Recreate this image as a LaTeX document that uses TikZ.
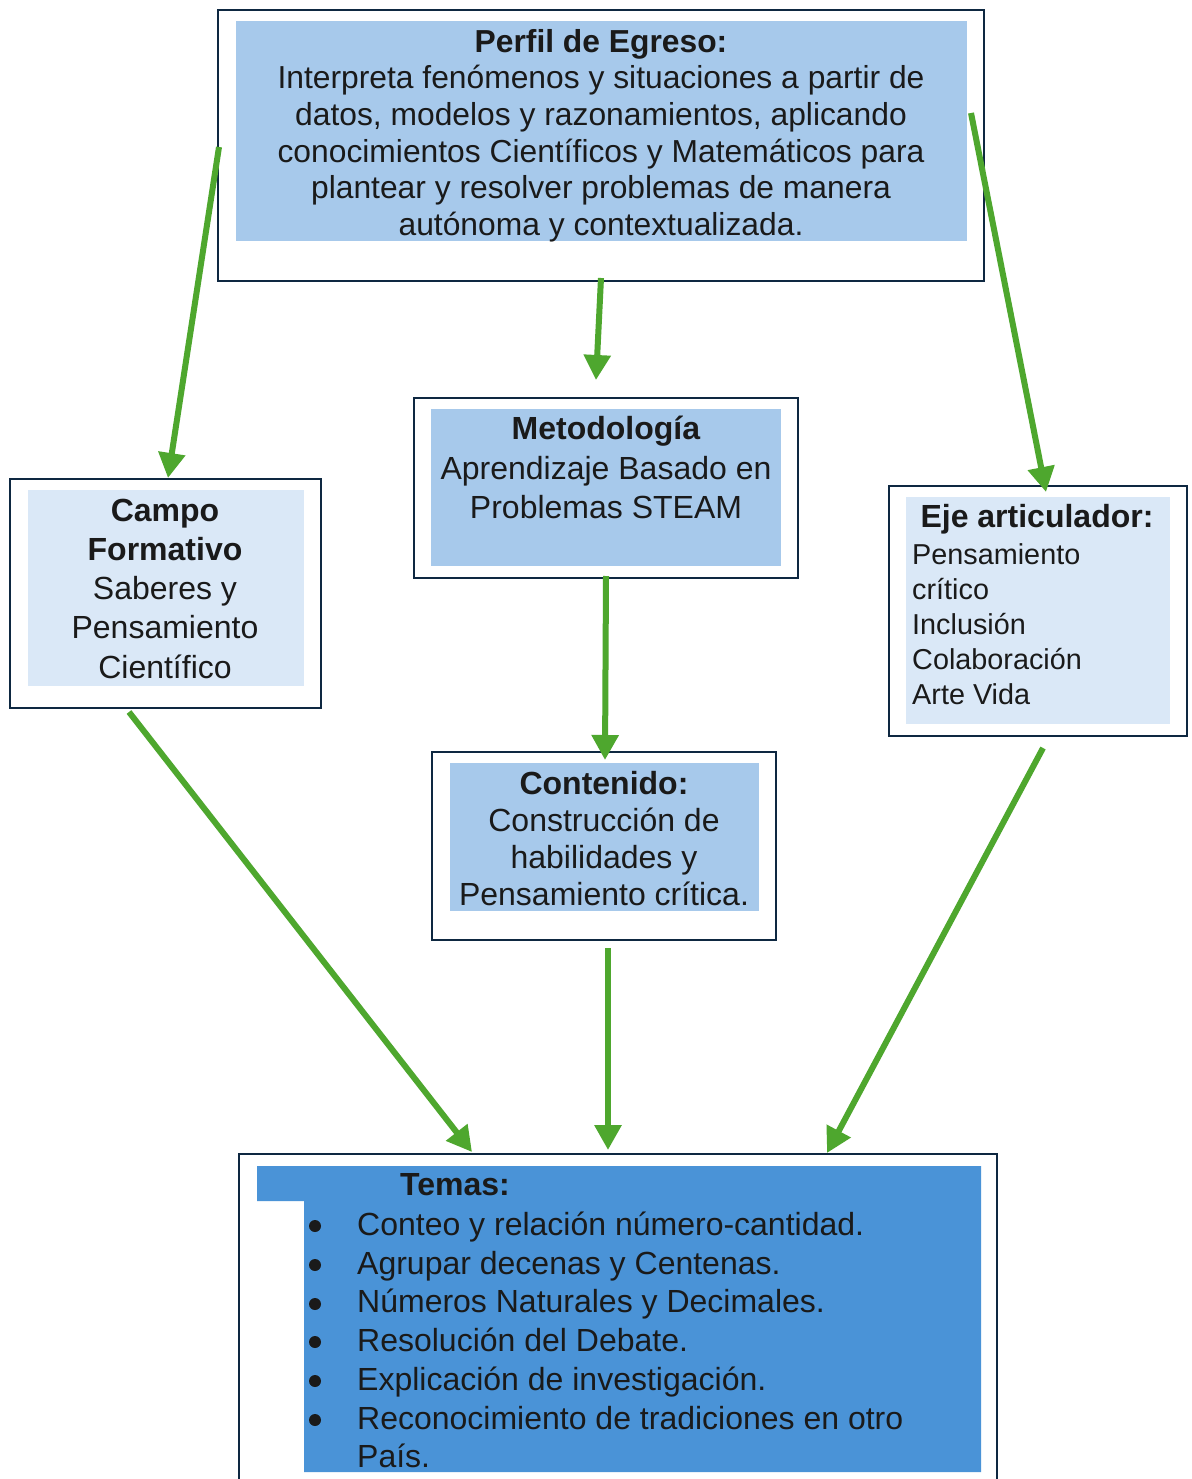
\documentclass[tikz,border=0pt]{standalone}
\usepackage{fontspec}
\setmainfont{Liberation Sans}
\usetikzlibrary{arrows.meta}
\definecolor{navy}{HTML}{0E2841}
\definecolor{midblue}{HTML}{A7C9EB}
\definecolor{lightblue}{HTML}{DAE8F7}
\definecolor{temablue}{HTML}{4A93D7}
\definecolor{arrgreen}{HTML}{4EA72E}
\definecolor{ink}{HTML}{1A1A1A}
\tikzset{
  obox/.style={draw=navy, line width=2.5pt, fill=white, anchor=north west, inner sep=0pt, outer sep=0pt},
  fbox/.style={anchor=north west, inner sep=0pt, outer sep=0pt},
  txt/.style={inner sep=0pt, text=ink, align=center},
  arr/.style={draw=arrgreen, line width=6pt, -{Triangle[length=25pt,width=26pt]}},
  bulletdot/.style={fill=ink},
}
\begin{document}
\begin{tikzpicture}[x=1pt,y=-1pt]
\useasboundingbox[fill=white] (0,0) rectangle (1191,1479);

% outer boxes
\node[obox, minimum width=766pt, minimum height=271pt] (perfilO) at (218,10) {};
\node[obox, minimum width=311pt, minimum height=229pt] (campoO) at (10,479) {};
\node[obox, minimum width=384pt, minimum height=180pt] (metoO) at (414,398) {};
\node[obox, minimum width=344pt, minimum height=188pt] (contO) at (432,752) {};
\node[obox, minimum width=298pt, minimum height=250pt] (ejeO) at (889,486) {};
\node[obox, minimum width=758pt, minimum height=340pt] (temasO) at (239,1154) {};

% inner fills
\node[fbox, fill=midblue, minimum width=731pt, minimum height=220pt] (perfilF) at (236,21) {};
\node[fbox, fill=lightblue, minimum width=276pt, minimum height=196pt] (campoF) at (28,490) {};
\node[fbox, fill=midblue, minimum width=350pt, minimum height=157pt] (metoF) at (431,409) {};
\node[fbox, fill=midblue, minimum width=309pt, minimum height=148pt] (contF) at (450,763) {};
\node[fbox, fill=lightblue, minimum width=264pt, minimum height=227pt] (ejeF) at (906,497) {};
\fill[temablue] (257,1166) -- (981,1166) -- (981,1472) -- (304,1472) -- (304,1201) -- (257,1201) -- cycle;

% texts
\node[txt, font=\fontsize{31.8pt}{36.6pt}\selectfont] (perfilT) at (601,135.5)
  {\textbf{Perfil de Egreso:}\\Interpreta fenómenos y situaciones a partir de\\datos, modelos y razonamientos, aplicando\\conocimientos Científicos y Matemáticos para\\plantear y resolver problemas de manera\\autónoma y contextualizada.};
\node[txt, font=\fontsize{32pt}{39.25pt}\selectfont] (campoT) at (165,588.5)
  {\textbf{Campo}\\\textbf{Formativo}\\Saberes y\\Pensamiento\\Científico};
\node[txt, font=\fontsize{32pt}{39.5pt}\selectfont] (metoT) at (606,467.5)
  {\textbf{Metodología}\\Aprendizaje Basado en\\Problemas STEAM};
\node[txt, font=\fontsize{32pt}{37pt}\selectfont] (contT) at (604,838.5)
  {\textbf{Contenido:}\\Construcción de\\habilidades y\\Pensamiento crítica.};
\node[txt, font=\fontsize{32pt}{37pt}\selectfont\bfseries] (ejeH) at (1037,519) {Eje articulador:};
\node[txt, align=left, anchor=west, font=\fontsize{28.8pt}{35pt}\selectfont] (ejeT) at (912,624)
  {Pensamiento\\crítico\\Inclusión\\Colaboración\\Arte Vida};
\node[txt, font=\fontsize{32pt}{37pt}\selectfont\bfseries] (temasH) at (455,1185) {Temas:};
\node[txt, align=left, anchor=west, font=\fontsize{32pt}{38.7pt}\selectfont] (temasT) at (357,1340)
  {Conteo y relación número-cantidad.\\Agrupar decenas y Centenas.\\Números Naturales y Decimales.\\Resolución del Debate.\\Explicación de investigación.\\Reconocimiento de tradiciones en otro\\País.};
% list bullets
\foreach \yy in {1226,1265,1304,1342,1381,1420}
  \fill[bulletdot] (315,\yy) circle (6pt);

% connector end points
\coordinate (a1s) at (219,147);  \coordinate (a1e) at (168,478);
\coordinate (a2s) at (601,278);  \coordinate (a2e) at (596,380);
\coordinate (a3s) at (971,113);  \coordinate (a3e) at (1046,492);
\coordinate (a4s) at (606,576);  \coordinate (a4e) at (605,760);
\coordinate (a5s) at (129,712);  \coordinate (a5e) at (472,1152);
\coordinate (a6s) at (608,948);  \coordinate (a6e) at (608,1150);
\coordinate (a7s) at (1043,748); \coordinate (a7e) at (827,1153);

\draw[arr] (a1s) -- (a1e);
\draw[arr] (a2s) -- (a2e);
\draw[arr] (a3s) -- (a3e);
\draw[arr] (a4s) -- (a4e);
\draw[arr] (a5s) -- (a5e);
\draw[arr] (a6s) -- (a6e);
\draw[arr] (a7s) -- (a7e);
\end{tikzpicture}
\end{document}
